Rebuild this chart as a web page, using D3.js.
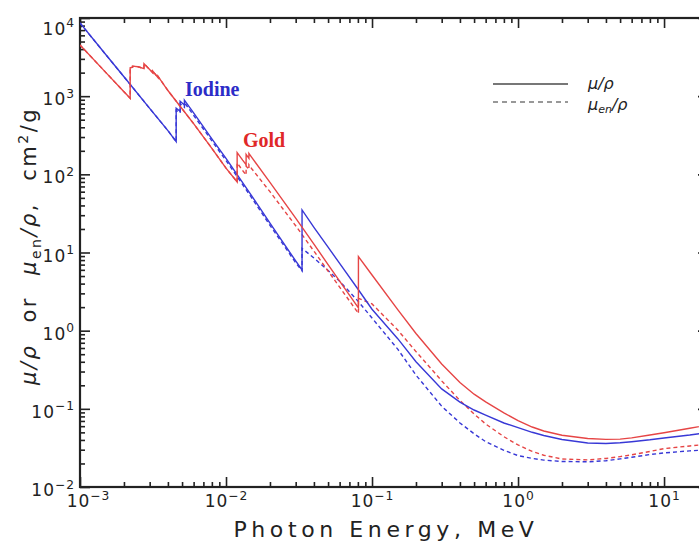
<!DOCTYPE html>
<html>
<head>
<meta charset="utf-8">
<script src="https://d3js.org/d3.v7.min.js"></script>
<style>
  body { margin: 0; background: #fff; }
  svg { display: block; font-family: "DejaVu Sans", sans-serif; }
</style>
</head>
<body>
<svg width="699" height="542"></svg>
<script>
// photon energies in MeV (edges appear twice: below / above)
const iodineE = [1e-3, 1.5e-3, 2e-3, 3e-3, 4e-3, 4.557e-3, 4.557e-3, 4.852e-3, 4.852e-3, 5.188e-3, 5.188e-3,
  6e-3, 8e-3, 1e-2, 1.5e-2, 2e-2, 3e-2, 3.317e-2, 3.317e-2, 4e-2, 5e-2, 6e-2, 8e-2, 0.1, 0.15, 0.2, 0.3,
  0.4, 0.5, 0.6, 0.8, 1, 1.25, 1.5, 2, 3, 4, 5, 6, 8, 10, 15, 20];
const iodineMu = [8630, 3410, 1770, 698, 363, 262, 700, 640, 860, 770, 890, 610, 285, 160, 53, 23.7, 7.8,
  5.97, 35, 21, 11.7, 7.26, 3.41, 1.88, 0.79, 0.40, 0.180, 0.122, 0.0966, 0.083, 0.0659, 0.0575, 0.0501,
  0.0456, 0.0405, 0.0366, 0.0360, 0.0369, 0.0380, 0.0402, 0.0424, 0.0462, 0.0500];
const iodineMuEn = [8630, 3410, 1770, 698, 363, 262, 660, 610, 800, 720, 830, 570, 268, 150, 50, 22.3, 7.4,
  5.8, 11.3, 8.5, 5.9, 4.3, 2.4, 1.45, 0.58, 0.27, 0.108, 0.066, 0.048, 0.038, 0.0295, 0.0252, 0.0232,
  0.0221, 0.0212, 0.0210, 0.0217, 0.0229, 0.0240, 0.0260, 0.0273, 0.0290, 0.0300];

const goldE = [1e-3, 1.5e-3, 2e-3, 2.206e-3, 2.206e-3, 2.291e-3, 2.291e-3, 2.5e-3, 2.743e-3, 2.743e-3, 3e-3,
  3.148e-3, 3.148e-3, 3.425e-3, 3.425e-3, 4e-3, 5e-3, 6e-3, 8e-3, 1e-2, 1.192e-2, 1.192e-2, 1.3e-2,
  1.373e-2, 1.373e-2, 1.435e-2, 1.435e-2, 1.5e-2, 2e-2, 3e-2, 4e-2, 5e-2, 6e-2, 8e-2, 8.07e-2, 8.07e-2,
  0.1, 0.15, 0.2, 0.3, 0.4, 0.5, 0.6, 0.8, 1, 1.25, 1.5, 2, 3, 4, 5, 6, 8, 10, 15, 20];
const goldMu = [4520, 2015, 1138, 940, 2300, 2350, 2420, 2380, 2250, 2600, 2200, 2000, 2100, 1720, 1790,
  1180, 690, 445, 215, 120, 80, 190, 152, 133, 180, 160, 185, 165, 79, 27.5, 12.8, 7.0, 4.3, 2.0, 1.96,
  8.85, 5.16, 1.86, 0.92, 0.374, 0.217, 0.154, 0.1225, 0.089, 0.0705, 0.0585, 0.052, 0.046, 0.0418,
  0.0407, 0.041, 0.0425, 0.0462, 0.0495, 0.0565, 0.062];
const goldMuEn = [4520, 2015, 1138, 940, 2300, 2350, 2420, 2380, 2250, 2600, 2200, 2000, 2100, 1720, 1790,
  1180, 690, 445, 215, 120, 80, 140, 112, 98, 128, 115, 133, 118, 60, 22, 10.4, 5.8, 3.6, 1.7, 1.66,
  2.6, 2.2, 1.02, 0.54, 0.228, 0.128, 0.086, 0.064, 0.044, 0.0345, 0.0285, 0.0255, 0.0228, 0.0222,
  0.0232, 0.0245, 0.0258, 0.0285, 0.031, 0.0335, 0.0352];

const xMajor = [1e-3, 1e-2, 1e-1, 1, 10];
const yMajor = [1e-2, 1e-1, 1, 10, 100, 1000, 10000];

const svg = d3.select("svg");
const m = { left: 80, right: 708, top: 18, bottom: 487 };
const x = d3.scaleLog().domain([1e-3, 20]).range([m.left, m.right]);
const y = d3.scaleLog().domain([1e-2, 1e4]).range([m.bottom, m.top]);

const BLUE = "#3838d6", RED = "#e64545", AXIS = "#222";

function minors(lo, hi) {
  const out = [];
  for (let e = Math.floor(Math.log10(lo)); e <= Math.ceil(Math.log10(hi)); e++)
    for (let k = 2; k <= 9; k++) { const v = k * 10 ** e; if (v > lo && v < hi) out.push(v); }
  return out;
}

// superscript exponent labels: 10^n
function powLabels(g) {
  g.selectAll(".tick text").each(function (d) {
    const t = d3.select(this), e = Math.round(Math.log10(d));
    t.text(null);
    t.append("tspan").text("10");
    t.append("tspan").attr("dy", "-0.6em").attr("font-size", "0.72em")
      .text(e < 0 ? "\u2212" + (-e) : e);
  });
}

svg.append("defs").append("clipPath").attr("id", "plot")
  .append("rect").attr("x", m.left).attr("y", m.top).attr("width", m.right - m.left).attr("height", m.bottom - m.top);

// axes: ticks inside on all four sides
const gx = svg.append("g").attr("transform", `translate(0,${m.bottom})`);
gx.call(d3.axisBottom(x).tickValues(minors(1e-3, 20)).tickSize(-5).tickFormat(""));
gx.append("g").call(d3.axisBottom(x).tickValues(xMajor).tickSize(-10).tickPadding(8)).call(powLabels);
const gt = svg.append("g").attr("transform", `translate(0,${m.top})`);
gt.call(d3.axisTop(x).tickValues(minors(1e-3, 20)).tickSize(-5).tickFormat(""));
gt.append("g").call(d3.axisTop(x).tickValues(xMajor).tickSize(-10).tickFormat(""));

const gy = svg.append("g").attr("transform", `translate(${m.left},0)`);
gy.call(d3.axisLeft(y).tickValues(minors(1e-2, 1e4)).tickSize(-5).tickFormat(""));
gy.append("g").call(d3.axisLeft(y).tickValues(yMajor).tickSize(-10).tickPadding(5)).call(powLabels);
const gr = svg.append("g").attr("transform", `translate(${m.right},0)`);
gr.call(d3.axisRight(y).tickValues(minors(1e-2, 1e4)).tickSize(-5).tickFormat(""));
gr.append("g").call(d3.axisRight(y).tickValues(yMajor).tickSize(-10).tickFormat(""));

svg.selectAll(".domain").remove();
svg.selectAll(".tick line").attr("stroke", AXIS).attr("stroke-width", 1.6);
svg.selectAll(".tick text").attr("fill", AXIS).attr("font-size", 17).attr("letter-spacing", 1)
  .attr("font-family", "DejaVu Sans, sans-serif");
gy.selectAll(".tick text").attr("dy", "0.5em");
gx.selectAll(".tick text").filter(d => d === 1e-3).attr("dx", 8);
gy.selectAll(".tick text").filter(d => d === 1e4).attr("dy", "0.95em");

svg.append("rect").attr("x", m.left).attr("y", m.top).attr("width", m.right - m.left).attr("height", m.bottom - m.top)
  .attr("fill", "none").attr("stroke", AXIS).attr("stroke-width", 2.2);

// curves
const line = d3.line().x(d => x(d[0])).y(d => y(d[1]));
const plot = svg.append("g").attr("clip-path", "url(#plot)").attr("fill", "none").attr("stroke-width", 1.4);
const series = [
  { e: iodineE, v: iodineMuEn, c: BLUE, dash: "4,3" },
  { e: goldE, v: goldMuEn, c: RED, dash: "4,3" },
  { e: iodineE, v: iodineMu, c: BLUE, dash: null },
  { e: goldE, v: goldMu, c: RED, dash: null }
];
series.forEach(s => {
  plot.append("path").datum(d3.zip(s.e, s.v)).attr("d", line)
    .attr("stroke", s.c).attr("stroke-dasharray", s.dash);
});

// element labels
svg.append("text").attr("x", 185).attr("y", 96).text("Iodine")
  .attr("font-family", "Liberation Serif, serif").attr("font-weight", "bold").attr("font-size", 20).attr("fill", "#2c2cc8");
svg.append("text").attr("x", 243).attr("y", 147).text("Gold")
  .attr("font-family", "Liberation Serif, serif").attr("font-weight", "bold").attr("font-size", 20).attr("fill", "#e02828");

// legend
const lg = svg.append("g").attr("stroke", "#777").attr("stroke-width", 2);
lg.append("line").attr("x1", 493).attr("x2", 568).attr("y1", 84).attr("y2", 84);
lg.append("line").attr("x1", 493).attr("x2", 568).attr("y1", 102).attr("y2", 102).attr("stroke-dasharray", "5,4").attr("stroke-width", 1.6);
const lt = svg.append("g").attr("font-style", "italic").attr("font-size", 16).attr("fill", "#222");
lt.append("text").attr("x", 588).attr("y", 89).text("\u03bc/\u03c1");
const l2 = lt.append("text").attr("x", 588).attr("y", 110);
l2.append("tspan").text("\u03bc");
l2.append("tspan").attr("dy", 3).attr("font-size", 11).text("en");
l2.append("tspan").attr("dy", -3).text("/\u03c1");

// axis titles
svg.append("text").attr("x", 386).attr("y", 537).attr("text-anchor", "middle")
  .attr("font-size", 22).attr("letter-spacing", 4.6).attr("fill", AXIS).text("Photon Energy, MeV");

const yt = svg.append("text").attr("transform", "translate(36,246) rotate(-90)").attr("text-anchor", "middle")
  .attr("font-size", 21).attr("letter-spacing", 2.5).attr("word-spacing", 12).attr("fill", AXIS);
yt.append("tspan").attr("font-style", "italic").text("\u03bc/\u03c1");
yt.append("tspan").text(" or ");
yt.append("tspan").attr("font-style", "italic").text("\u03bc");
yt.append("tspan").attr("dy", 5).attr("font-size", 14).text("en");
yt.append("tspan").attr("dy", -5).attr("font-style", "italic").text("/\u03c1");
yt.append("tspan").text(", cm");
yt.append("tspan").attr("dy", -8).attr("font-size", 14).text("2");
yt.append("tspan").attr("dy", 8).text("/g");
</script>
</body>
</html>
